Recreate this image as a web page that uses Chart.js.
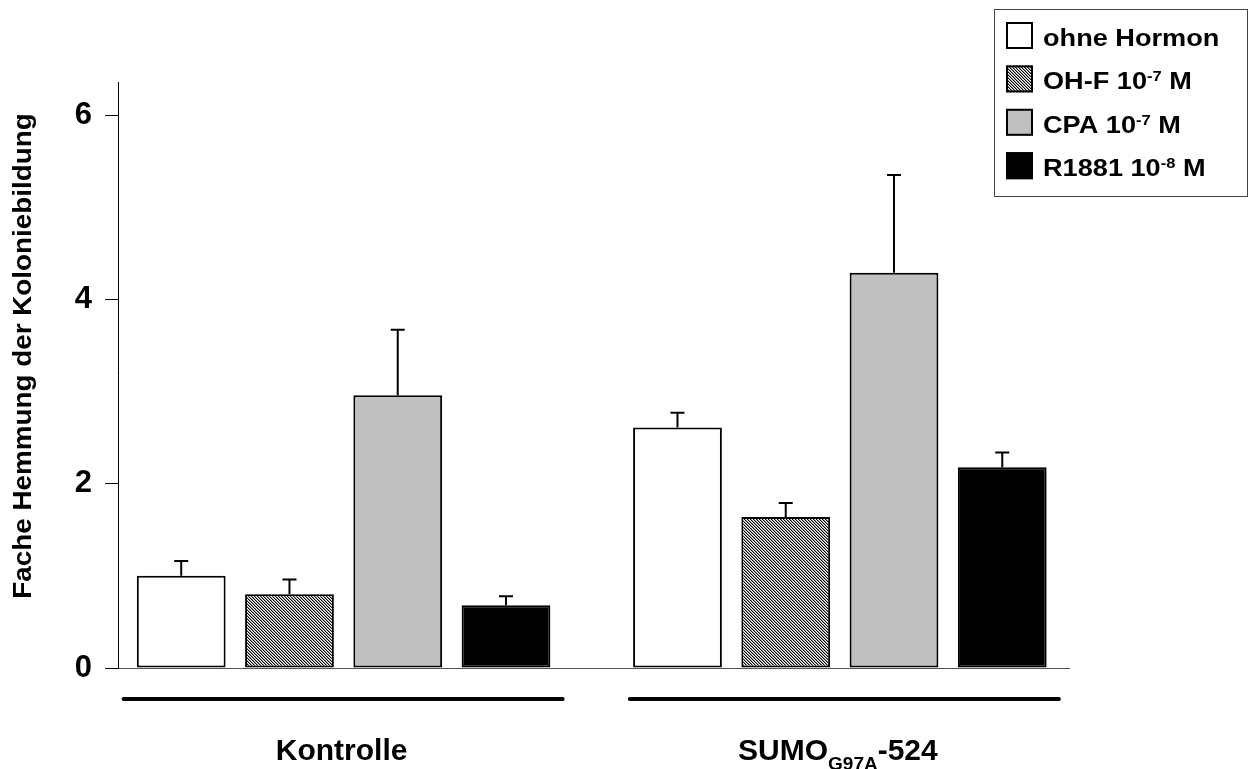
<!DOCTYPE html>
<html>
<head>
<meta charset="utf-8">
<script src="https://cdn.jsdelivr.net/npm/chart.js@4.4.1/dist/chart.umd.min.js"></script>
<style>
  html, body { margin: 0; padding: 0; background: #fff; }
  #wrap { width: 1251px; height: 769px; }
</style>
</head>
<body>
<div id="wrap"><canvas id="c" width="1251" height="769"></canvas></div>
<script>
// Groups along the x axis ("_{...}" marks a subscript, "^{...}" a superscript)
const groups = ['Kontrolle', 'SUMO_{G97A}-524'];
const seriesNames = ['ohne Hormon', 'OH-F 10^{-7} M', 'CPA 10^{-7} M', 'R1881 10^{-8} M'];

// Mean fold inhibition and upper error (SD) per treatment, one entry per group
const ohneHormon    = [1.00, 2.61];
const ohneHormonErr = [0.16, 0.16];
const ohF           = [0.80, 1.64];
const ohFErr        = [0.16, 0.15];
const cpa           = [2.96, 4.29];
const cpaErr        = [0.71, 1.06];
const r1881         = [0.68, 2.18];
const r1881Err      = [0.10, 0.16];

const yTicks = [0, 2, 4, 6];
const yTitle = 'Fache Hemmung der Koloniebildung';

const FONT = '"Liberation Sans", Arial, Helvetica, sans-serif';

// Fine diagonal hatch used for the OH-F bars
function makeHatch() {
  const t = document.createElement('canvas');
  t.width = 3; t.height = 3;
  const g = t.getContext('2d');
  const shades = ['#000000', '#999999', '#ffffff'];
  for (let y = 0; y < 3; y++) {
    for (let x = 0; x < 3; x++) {
      const d = ((x - y) % 3 + 3) % 3;
      g.fillStyle = shades[d];
      g.fillRect(x, y, 1, 1);
    }
  }
  return document.getElementById('c').getContext('2d').createPattern(t, 'repeat');
}
const hatch = makeHatch();

// Simple rich text: split into normal / superscript / subscript runs
function parseRich(s) {
  const out = [];
  const re = /(\^\{[^}]*\}|_\{[^}]*\})/g;
  let last = 0, m;
  while ((m = re.exec(s)) !== null) {
    if (m.index > last) out.push({ t: s.slice(last, m.index), mode: 'n' });
    out.push({ t: m[0].slice(2, -1), mode: m[0][0] === '^' ? 'sup' : 'sub' });
    last = re.lastIndex;
  }
  if (last < s.length) out.push({ t: s.slice(last), mode: 'n' });
  return out;
}
function runFont(mode, size) {
  const sz = mode === 'n' ? size : Math.round(size * 0.62);
  return 'bold ' + sz + 'px ' + FONT;
}
// Draws a rich string; sx stretches it horizontally
function drawRich(ctx, s, x, y, size, align, opts) {
  const o = Object.assign({ sx: 1, sub: 0.3, sup: 0.36 }, opts || {});
  const runs = parseRich(s);
  let total = 0;
  runs.forEach(r => {
    ctx.font = runFont(r.mode, size);
    r.w = ctx.measureText(r.t).width;
    total += r.w;
  });
  ctx.save();
  ctx.translate(x, y);
  ctx.scale(o.sx, 1);
  let cx = align === 'center' ? -total / 2 : 0;
  ctx.textAlign = 'left';
  ctx.textBaseline = 'alphabetic';
  runs.forEach(r => {
    ctx.font = runFont(r.mode, size);
    let dy = 0;
    if (r.mode === 'sup') dy = -size * o.sup;
    if (r.mode === 'sub') dy = size * o.sub;
    ctx.fillText(r.t, cx, dy);
    cx += r.w;
  });
  ctx.restore();
}

const datasets = [
  { label: seriesNames[0], values: ohneHormon, err: ohneHormonErr, fill: '#ffffff' },
  { label: seriesNames[1], values: ohF,        err: ohFErr,        fill: hatch },
  { label: seriesNames[2], values: cpa,        err: cpaErr,        fill: '#c0c0c0' },
  { label: seriesNames[3], values: r1881,      err: r1881Err,      fill: '#000000' }
].map(d => ({
  label: d.label,
  data: d.values.map((v, i) => ({ x: i, y: v })),
  errors: d.err,
  backgroundColor: d.fill,
  borderColor: '#000000',
  borderWidth: 2,
  borderSkipped: false,
  categoryPercentage: 0.8726,
  barPercentage: 0.82
}));

// Upward error whiskers with short caps
const errorBars = {
  id: 'errorBars',
  afterDatasetsDraw(chart) {
    const ctx = chart.ctx;
    const y = chart.scales.y;
    ctx.save();
    ctx.strokeStyle = '#000';
    ctx.lineWidth = 2;
    chart.data.datasets.forEach((ds, di) => {
      const meta = chart.getDatasetMeta(di);
      meta.data.forEach((bar, i) => {
        const top = y.getPixelForValue(ds.data[i].y + ds.errors[i]);
        ctx.beginPath();
        ctx.moveTo(bar.x, bar.y);
        ctx.lineTo(bar.x, top);
        ctx.moveTo(bar.x - 7, top);
        ctx.lineTo(bar.x + 7, top);
        ctx.stroke();
      });
    });
    ctx.restore();
  }
};

// Group rules and labels under the axis, y title and legend box
const ruleReach = [[220, 219], [210, 219]];  // px left/right of each group centre
const decorations = {
  id: 'decorations',
  afterDraw(chart) {
    const ctx = chart.ctx;
    const x = chart.scales.x;
    ctx.save();
    ctx.fillStyle = '#000';
    ctx.strokeStyle = '#000';

    groups.forEach((g, i) => {
      const cx = x.getPixelForValue(i);
      ctx.lineWidth = 4;
      ctx.lineCap = 'round';
      ctx.beginPath();
      ctx.moveTo(cx - ruleReach[i][0], 699);
      ctx.lineTo(cx + ruleReach[i][1], 699);
      ctx.stroke();
      drawRich(ctx, g, cx - 2, 760, 30, 'center', { sub: 0.33 });
    });

    // y title, rotated
    ctx.save();
    ctx.translate(31, 356);
    ctx.rotate(-Math.PI / 2);
    ctx.scale(1.07, 1);
    ctx.font = 'bold 26px ' + FONT;
    ctx.textAlign = 'center';
    ctx.textBaseline = 'alphabetic';
    ctx.fillText(yTitle, 0, 0);
    ctx.restore();

    // legend
    ctx.lineCap = 'butt';
    ctx.lineWidth = 1;
    ctx.strokeStyle = '#444';
    ctx.strokeRect(994.5, 9.5, 253, 187);
    chart.data.datasets.forEach((ds, i) => {
      const top = 22 + i * 43.4;
      ctx.fillStyle = ds.backgroundColor;
      ctx.fillRect(1006, top, 27, 27);
      ctx.lineWidth = 2;
      ctx.strokeStyle = '#000';
      ctx.strokeRect(1007, top + 1, 25, 25);
      ctx.fillStyle = '#000';
      drawRich(ctx, ds.label, 1043, top + 24, 23, 'left', { sx: 1.18 });
    });
    ctx.restore();
  }
};

new Chart(document.getElementById('c'), {
  type: 'bar',
  data: { datasets },
  plugins: [errorBars, decorations],
  options: {
    responsive: false,
    animation: false,
    devicePixelRatio: 1,
    layout: { padding: { top: 82, right: 182, left: 0, bottom: 0 } },
    plugins: { legend: { display: false }, tooltip: { enabled: false } },
    scales: {
      x: {
        type: 'linear',
        offset: false,
        min: -0.4546,
        max: 1.4617,
        afterBuildTicks(scale) { scale.ticks = groups.map((g, i) => ({ value: i })); },
        afterFit(scale) { scale.height = 101; },
        ticks: { display: false },
        grid: { display: false },
        border: { display: true, color: '#555', width: 1 }
      },
      y: {
        min: 0,
        max: 6.36,
        afterBuildTicks(scale) { scale.ticks = yTicks.map(v => ({ value: v })); },
        afterFit(scale) { scale.width = 118; },
        ticks: {
          padding: 13,
          color: '#000',
          font: { family: FONT, size: 31, weight: 'bold' }
        },
        grid: { drawOnChartArea: false, drawTicks: true, tickLength: 13, color: '#000', lineWidth: 1 },
        border: { display: true, color: '#000', width: 1 }
      }
    }
  }
});
</script>
</body>
</html>
